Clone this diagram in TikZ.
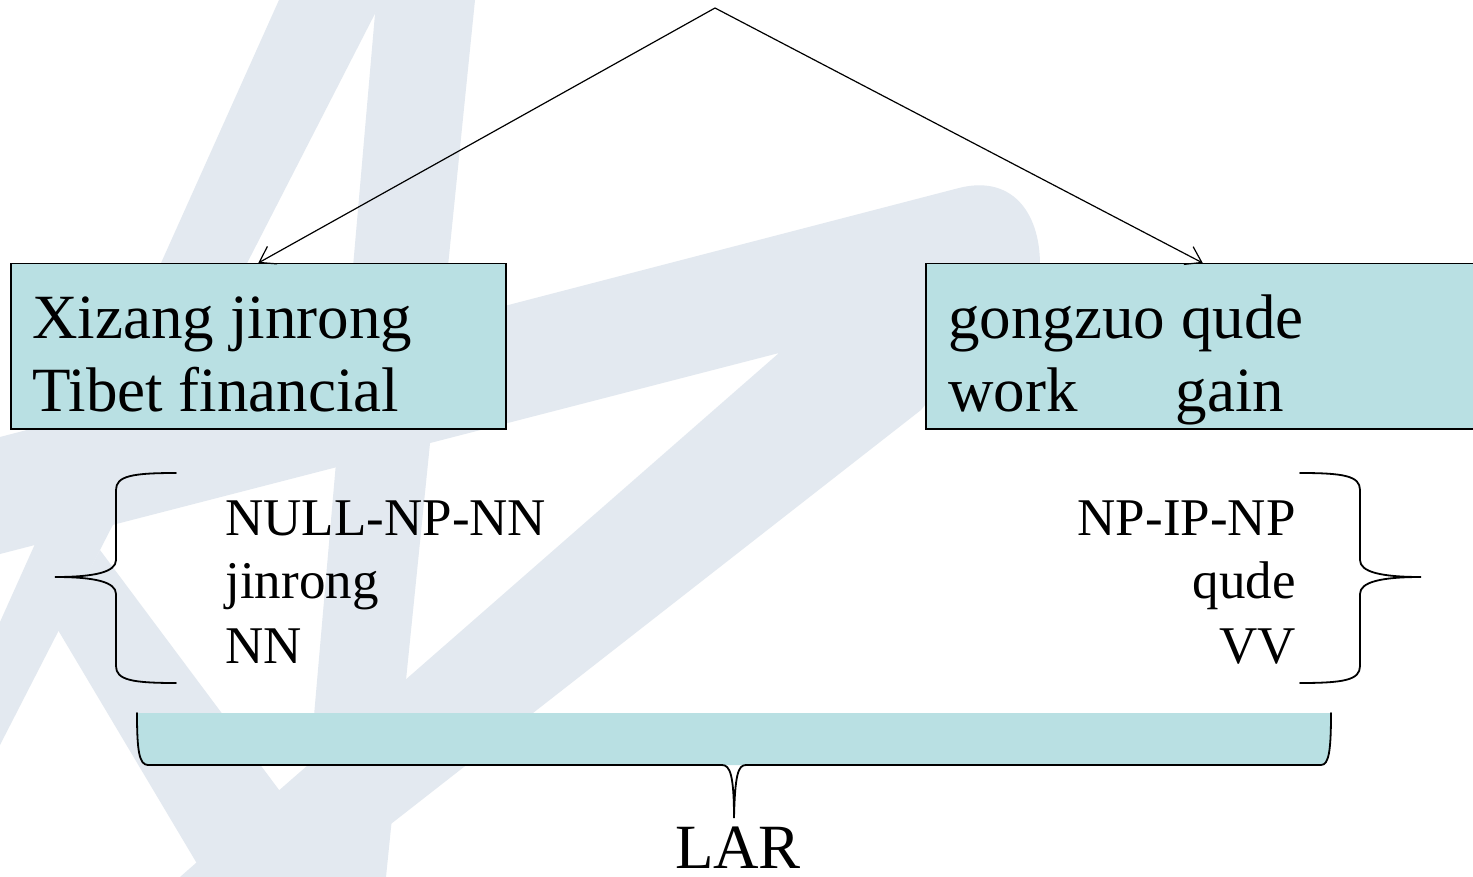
\documentclass[tikz,border=0pt]{standalone}
\usepackage{fontspec}
\setmainfont{Liberation Serif}
\usetikzlibrary{arrows.meta}
\definecolor{boxfill}{RGB}{185,224,227}
\definecolor{logotint}{RGB}{227,233,240}
\tikzset{
  big/.style={font=\fontsize{31.5}{36.5}\selectfont, inner sep=0pt, anchor=base west},
  small/.style={font=\fontsize{26.5}{32}\selectfont, inner sep=0pt},
  panel/.style={draw=black, line width=0.75pt, fill=boxfill, inner sep=0pt, anchor=north west},
  link/.style={line width=0.6pt, -{Straight Barb[length=7.5pt,width=10pt,line width=0.6pt]}},
  brace/.style={line width=0.9pt, line cap=round},
}
\begin{document}
\begin{tikzpicture}[x=0.5pt, y=-0.5pt]
\clip (0,0) rectangle (1473,877);
\fill[white] (0,0) rectangle (1473,877);

% faint logo in the background: two legs, a swept crossbar and a foot
\fill[logotint] (279,0) -- (382,0) -- (0,745) -- (0,622) -- cycle;
\fill[logotint] (378,0) -- (475,0) -- (386,877) -- (300,877) -- (375,14) -- cycle;
\fill[logotint] (0,437) -- (959,188) .. controls (1010,175) and (1040,210) .. (1040,265)
   -- (921,410) -- (323,877) -- (180,877) -- (779,353) -- (0,554) -- cycle;
\fill[logotint] (100,550) -- (58,630) -- (205,877) -- (344,877) -- cycle;

% phrase boxes
\node[panel, minimum width=247.5pt, minimum height=82.5pt] (lbox) at (10,263) {};
\node[panel, minimum width=277pt, minimum height=82.5pt] (rbox) at (925,263) {};
\node[big] (l1) at (32,338) {Xizang jinrong};
\node[big] (l2) at (32,411) {Tibet financial};
\node[big] (r1) at (948,338) {gongzuo qude};
\node[big] (r2) at (948,411) {work\hspace{49pt}gain};

% root and its two links
\coordinate (root) at (715,8);
\draw[link] (root) -- (lbox.north);
\draw[link] (root) -- (rbox.north);

% rule labels
\node[small, anchor=base west] (a1) at (225,535) {NULL-NP-NN};
\node[small, anchor=base west] (a2) at (225,598) {jinrong};
\node[small, anchor=base west] (a3) at (225,663) {NN};
\node[small, anchor=base east] (b1) at (1296,535) {NP-IP-NP};
\node[small, anchor=base east] (b2) at (1296,598) {qude};
\node[small, anchor=base east] (b3) at (1296,663) {VV};

% curly braces
\draw[brace] (176,473) .. controls (132,473) and (116,476) .. (116,490)
  -- (116,560) .. controls (116,572) and (95,577) .. (55,577)
  .. controls (95,577) and (116,582) .. (116,594)
  -- (116,666) .. controls (116,680) and (132,683) .. (176,683);
\draw[brace] (1300,473) .. controls (1344,473) and (1360,476) .. (1360,490)
  -- (1360,560) .. controls (1360,572) and (1381,577) .. (1421,577)
  .. controls (1381,577) and (1360,582) .. (1360,594)
  -- (1360,666) .. controls (1360,680) and (1344,683) .. (1300,683);

% under-brace with its band
\fill[boxfill] (137,713) .. controls (137,750) and (139,765) .. (148,765)
  -- (1321,765) .. controls (1329,765) and (1331,750) .. (1331,713) -- cycle;
\draw[brace] (137,713) .. controls (137,750) and (139,765) .. (148,765)
  -- (722,765) .. controls (730,765) and (734,775) .. (734,818)
  .. controls (735,775) and (738,765) .. (746,765)
  -- (1321,765) .. controls (1329,765) and (1331,750) .. (1331,713);
\node[big, anchor=base] (lar) at (738,868) {LAR};
\end{tikzpicture}
\end{document}
